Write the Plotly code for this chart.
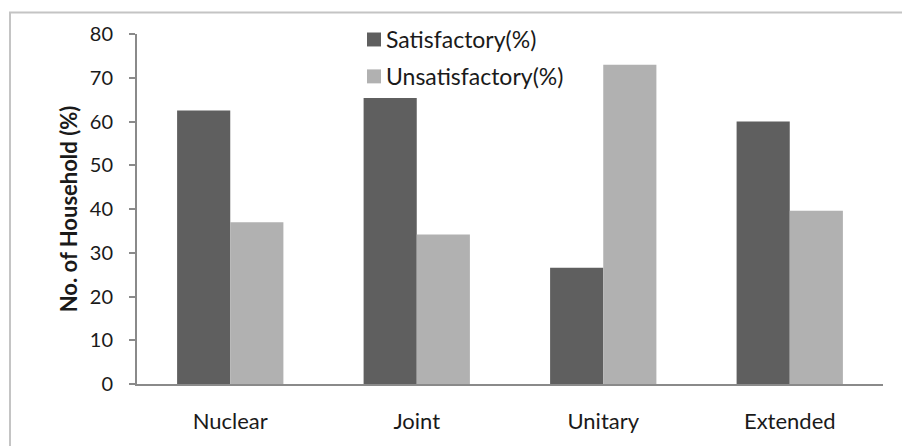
import plotly.graph_objects as go

# Household type categories and satisfaction shares (%)
family_types = ["Nuclear", "Joint", "Unitary", "Extended"]
satisfactory = [62.5, 65.4, 26.6, 60.0]
unsatisfactory = [37.0, 34.2, 73.0, 39.6]
y_ticks = [0, 10, 20, 30, 40, 50, 60, 70, 80]

DARK = "#5f5f5f"
LIGHT = "#b1b1b1"
AXIS = "#8a8a8a"
FONT = "Lato, 'Open Sans', sans-serif"
TEXT = "#1a1a1a"

W, H = 902, 446
L, R, T, B = 137, 19, 33.5, 61.5
pw, ph = W - L - R, H - T - B


def px_x(p):
    return (p - L) / pw


def px_y(p):
    return (H - B - p) / ph


fig = go.Figure()
fig.add_trace(go.Bar(x=family_types, y=satisfactory, name="Satisfactory(%)",
                     marker=dict(color=DARK, line=dict(width=0))))
fig.add_trace(go.Bar(x=family_types, y=unsatisfactory, name="Unsatisfactory(%)",
                     marker=dict(color=LIGHT, line=dict(width=0))))

# outer frame around the chart
fig.add_shape(type="rect", xref="paper", yref="paper",
              x0=px_x(10), x1=px_x(910), y0=px_y(460), y1=px_y(12),
              line=dict(color="#c4c4c4", width=2), fillcolor="rgba(0,0,0,0)")

# legend drawn as swatches + labels
legend_items = [("Satisfactory(%)", DARK, 39), ("Unsatisfactory(%)", LIGHT, 76)]
for label, color, cy in legend_items:
    fig.add_shape(type="rect", xref="paper", yref="paper",
                  x0=px_x(367), x1=px_x(381), y0=px_y(cy + 7), y1=px_y(cy - 7),
                  line=dict(width=0), fillcolor=color)
    fig.add_annotation(xref="paper", yref="paper", x=px_x(384), y=px_y(cy),
                       xanchor="left", yanchor="middle", text=label,
                       showarrow=False, font=dict(family=FONT, size=23, color=TEXT))

fig.update_layout(
    width=W, height=H,
    margin=dict(l=L, r=R, t=T, b=B),
    paper_bgcolor="white", plot_bgcolor="white",
    showlegend=False,
    barmode="group", bargap=0.43, bargroupgap=0,
    font=dict(family=FONT, color=TEXT),
)
fig.update_xaxes(
    showline=True, linecolor=AXIS, linewidth=2, ticks="",
    showgrid=False, tickfont=dict(family=FONT, size=22, color=TEXT),
    ticklabelstandoff=17,
)
fig.update_yaxes(
    range=[0, 80], tickvals=y_ticks, showgrid=False, zeroline=False,
    showline=True, linecolor=AXIS, linewidth=2,
    ticks="outside", ticklen=6, tickcolor=AXIS, tickwidth=2,
    tickfont=dict(family=FONT, size=20, color=TEXT), ticklabelstandoff=12,
    title=dict(text="<b>No. of Household (%)</b>", standoff=6,
               font=dict(family=FONT, size=22, color=TEXT)),
)

fig.write_html("out.html")
